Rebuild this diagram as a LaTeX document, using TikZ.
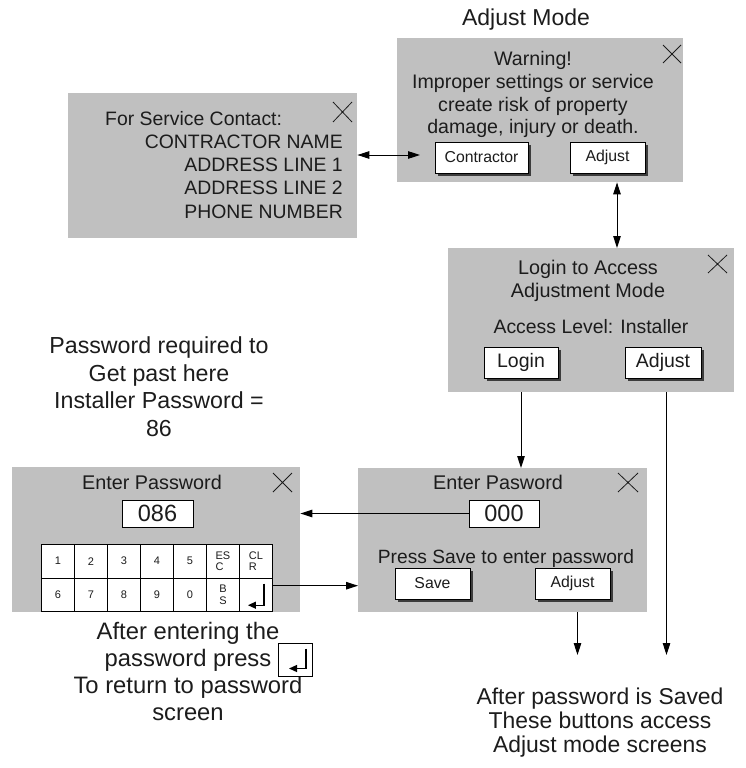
\documentclass[tikz,border=0pt]{standalone}
\usepackage{fontspec}
\setmainfont{Liberation Sans}
\usetikzlibrary{arrows.meta,shadows}
\definecolor{panel}{RGB}{192,192,192}
\definecolor{ink}{RGB}{28,28,28}
\definecolor{shade}{RGB}{60,60,60}
\newcommand{\fsz}[2]{\fontsize{#1}{#2}\selectfont}
\begin{document}
\begin{tikzpicture}[x=1pt,y=-1pt,
  panelbox/.style={fill=panel,draw=none,inner sep=0pt,anchor=north west},
  btn/.style={draw=black,fill=white,line width=0.9pt,inner sep=0pt,text=ink,
     drop shadow={shadow xshift=2.5pt,shadow yshift=-2.5pt,fill=shade,opacity=1}},
  field/.style={draw=black,fill=white,line width=1pt,inner sep=0pt,text=ink,
     minimum width=71pt,minimum height=27pt,font=\fsz{23.5}{23.5}},
  key/.style={draw=black,fill=white,line width=0.9pt,inner sep=0pt,text=ink,
     minimum width=33pt,minimum height=33.5pt,anchor=north west,font=\fsz{11}{11.5}},
  lbl/.style={text=ink,inner sep=0pt,align=center},
  closex/.style={line width=0.8pt,draw=ink},
  conn/.style={draw=black,line width=1pt,-{Triangle[length=12pt,width=7.5pt]}},
  dconn/.style={draw=black,line width=1pt,{Triangle[length=12pt,width=7.5pt]}-{Triangle[length=12pt,width=7.5pt]}},
  enterarrow/.style={draw=black,line width=1.2pt,-{Triangle[length=8pt,width=7pt]}},
  ]
\useasboundingbox (0,0) rectangle (746,768);

% panels
\node[panelbox,minimum width=286pt,minimum height=144pt] (A) at (397,38) {};
\node[panelbox,minimum width=289pt,minimum height=145pt] (S) at (68,93) {};
\node[panelbox,minimum width=286pt,minimum height=144pt] (L) at (448,248) {};
\node[panelbox,minimum width=288pt,minimum height=145pt] (P1) at (12,467) {};
\node[panelbox,minimum width=289pt,minimum height=144pt] (P2) at (358,468) {};

% close icons
\draw[closex] (663,45) -- (681,63) (663,63) -- (681,45);
\draw[closex] (333,102) -- (352,122) (333,122) -- (352,102);
\draw[closex] (708,255) -- (727,273) (708,273) -- (727,255);
\draw[closex] (273,473) -- (292,492) (273,492) -- (292,473);
\draw[closex] (618,473) -- (638,492) (618,492) -- (638,473);

% Adjust mode panel
\node[lbl,font=\fsz{23}{27},anchor=north] (title) at (526,9) {Adjust Mode};
\node[lbl,font=\fsz{19.6}{22.8},anchor=north] (warn) at (533,51)
  {Warning!\\Improper settings or service\\create risk of property\\damage, injury or death.};
\node[btn,minimum width=93pt,minimum height=31pt,font=\fsz{15.8}{16}] (bC) at (481.5,157.5) {Contractor};
\node[btn,minimum width=75pt,minimum height=31pt,font=\fsz{15.8}{16}] (bA) at (607.5,157.5) {Adjust};

% service panel
\node[lbl,font=\fsz{19.4}{23.3},anchor=north west] (stitle) at (105,111) {For Service Contact:};
\node[lbl,align=right,font=\fsz{19.4}{23.3},anchor=north east] (sbody) at (343,134.5)
  {CONTRACTOR NAME\\ADDRESS LINE 1\\ADDRESS LINE 2\\PHONE NUMBER};

% login panel
\node[lbl,font=\fsz{19.8}{23},anchor=north] (ltitle) at (588,259.5) {Login to Access\\Adjustment Mode};
\node[lbl,font=\fsz{19.4}{23},anchor=north] (llevel) at (591,319.5) {Access Level: Installer};
\node[btn,minimum width=74pt,minimum height=31pt,font=\fsz{19.5}{20}] (bL) at (521,362.5) {Login};
\node[btn,minimum width=76pt,minimum height=31pt,font=\fsz{19.5}{20}] (bAL) at (663,362.5) {Adjust};

% left password panel
\node[lbl,font=\fsz{19.8}{23},anchor=north] (p1title) at (152,474.5) {Enter Password};
\node[field] (f1) at (157.5,513.5) {086};
\foreach \t [count=\i from 0] in {1,2,3,4,5}
  \node[key] (ka\i) at (41+33*\i,544) {\t};
\node[key,align=left] (ka5) at (206,544) {ES\\C};
\node[key,align=left] (ka6) at (239,544) {CL\\R};
\foreach \t [count=\i from 0] in {6,7,8,9,0}
  \node[key] (kb\i) at (41+33*\i,577.5) {\t};
\node[key,align=center] (kb5) at (206,577.5) {B\\S};
\node[key] (kb6) at (239,577.5) {};
\draw[enterarrow,shift={(kb6.center)}] (8,-11) -- (8,10.5) -- (-8,10.5);

% right password panel
\node[lbl,font=\fsz{19.8}{23},anchor=north] (p2title) at (498,474.5) {Enter Pasword};
\node[field,minimum width=70pt] (f2) at (504,513.5) {000};
\node[lbl,font=\fsz{19.2}{23},anchor=north] (p2hint) at (506,549.5) {Press Save to enter password};
\node[btn,minimum width=75pt,minimum height=31pt,font=\fsz{15.8}{16}] (bS) at (432.5,583.5) {Save};
\node[btn,minimum width=75pt,minimum height=31pt,font=\fsz{15.8}{16}] (bAP) at (572.5,583.5) {Adjust};

% annotations
\node[lbl,font=\fsz{23.2}{27.5},anchor=north] (note1) at (159,336.5)
  {Password required to\\Get past here\\Installer Password =\\86};
\node[lbl,font=\fsz{23.8}{27},anchor=north] (note2) at (188,622.5)
  {After entering the\\password press\hspace*{9pt}\\To return to password\\screen};
\node[draw=black,fill=white,line width=1pt,inner sep=0pt,minimum width=34pt,minimum height=33pt] (icon) at (295,659.5) {};
\draw[enterarrow,shift={(icon.center)}] (11,-11) -- (11,9) -- (-6,9);
\node[lbl,font=\fsz{22.9}{24},anchor=north] (note3) at (600,687.5)
  {After password is Saved\\These buttons access\\Adjust mode screens};

% connectors
\coordinate (cC) at (420,155);
\draw[dconn] (S.east |- cC) -- (cC);
\draw[dconn] (A.south -| 617,0) -- (L.north -| 617,0);
\draw[conn] (L.south -| bL.south) -- (P2.north -| bL.south);
\coordinate (eAL) at (666.5,655);
\draw[conn] (L.south -| eAL) -- (eAL);
\coordinate (eAP) at (577.5,655);
\draw[conn] (P2.south -| eAP) -- (eAP);
\draw[conn] (f2.west) -- (P1.east |- f2.west);
\coordinate (kOut) at ([yshift=9pt]kb6.east);
\draw[conn] (kOut) -- (P2.west |- kOut);
\end{tikzpicture}
\end{document}
